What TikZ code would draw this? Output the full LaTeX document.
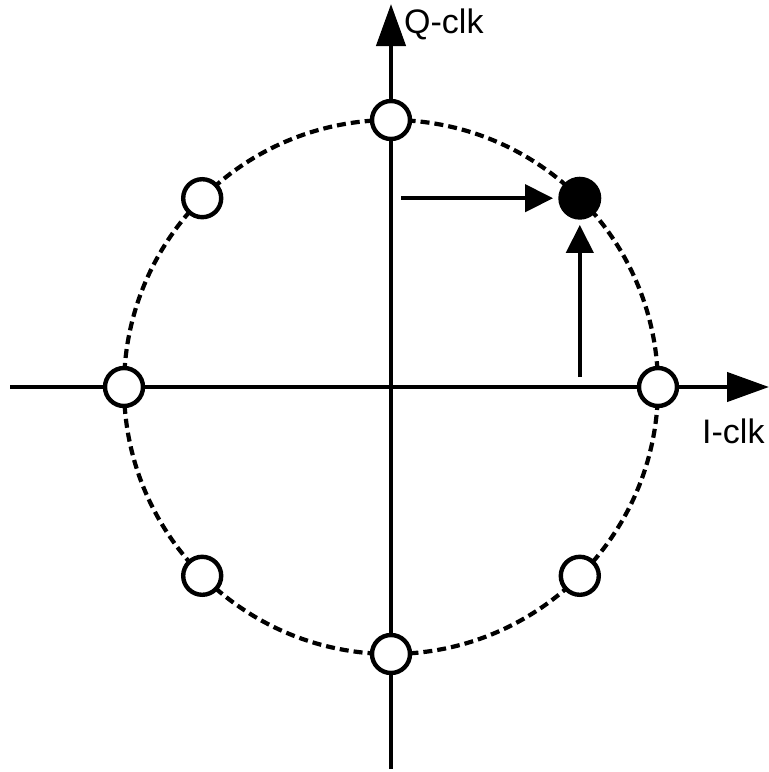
\documentclass[tikz,border=0pt]{standalone}
\usepackage{fontspec}
\setmainfont{Liberation Sans}
\usetikzlibrary{arrows.meta}
\tikzset{
  axisline/.style={line width=4.4pt, -{Triangle[length=42pt,width=29pt]}},
  vecarrow/.style={line width=4.4pt, shorten >=5pt, -{Triangle[length=28pt,width=27pt]}},
  ring/.style={dash pattern=on 9pt off 5pt, line width=4.2pt},
  dotopen/.style={circle, draw, line width=4.4pt, fill=white, minimum size=38pt, inner sep=0pt},
  dotfull/.style={circle, fill=black, minimum size=43pt, inner sep=0pt},
  lbl/.style={font=\fontsize{34}{40}\selectfont, inner sep=0pt, anchor=base west}
}
\begin{document}
\begin{tikzpicture}[x=1pt,y=-1pt]
\useasboundingbox (0,0) rectangle (769,772);
\coordinate (o) at (391,387);
\coordinate (xl) at (10,387);
\coordinate (xr) at (769,387);
\coordinate (yb) at (391,769);
\coordinate (yt) at (391,4);
\draw[ring] (o) circle (267);
\draw[axisline] (xl) -- (xr);
\draw[axisline] (yb) -- (yt);
\node[dotopen] (p0) at (658,387) {};
\node[dotopen] (p2) at (391,120) {};
\node[dotopen] (p4) at (124,387) {};
\node[dotopen] (p6) at (391,654) {};
\node[dotopen] (p3) at (202.2,198.2) {};
\node[dotopen] (p5) at (202.2,575.8) {};
\node[dotopen] (p7) at (579.8,575.8) {};
\node[dotfull] (p1) at (579.8,198.2) {};
\coordinate (ha) at (401,198.2);
\coordinate (va) at (579.8,377);
\draw[vecarrow] (ha) -- (p1.west);
\draw[vecarrow] (va) -- (p1.south);
\node[lbl] (ql) at (404,33) {Q-clk};
\node[lbl] (il) at (702,443) {I-clk};
\end{tikzpicture}
\end{document}
